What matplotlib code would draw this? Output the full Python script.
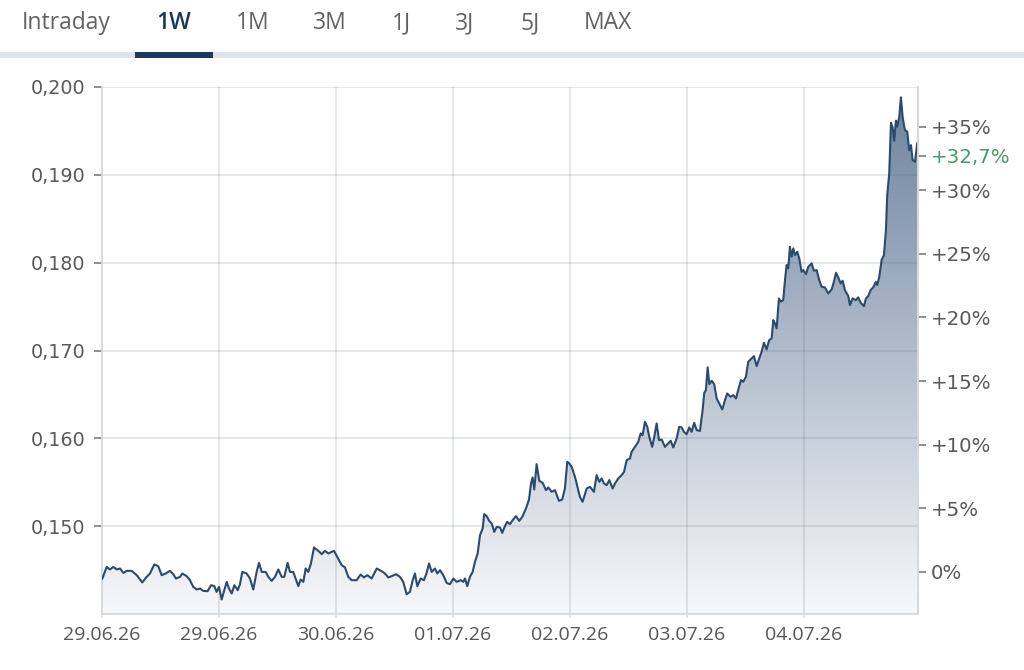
import matplotlib
matplotlib.use("Agg")
import matplotlib.pyplot as plt
import numpy as np
from matplotlib.colors import LinearSegmentedColormap
from matplotlib.patches import Rectangle, Polygon

# ---------------- data ----------------
tabs = ["Intraday", "1W", "1M", "3M", "1J", "3J", "5J", "MAX"]
active_tab = "1W"

date_labels = ["29.06.26", "29.06.26", "30.06.26", "01.07.26",
               "02.07.26", "03.07.26", "04.07.26"]

price_ticks = [0.150, 0.160, 0.170, 0.180, 0.190, 0.200]
pct_ticks = [0, 5, 10, 15, 20, 25, 30, 35]
base_price = 0.1448
last_pct = 32.7

# time in trading-day units (0 = first tick), price values
t = [0.003, 0.040, 0.068, 0.097, 0.126, 0.154, 0.182, 0.211, 0.254, 0.297,
     0.344, 0.382, 0.410, 0.447, 0.481, 0.510, 0.544, 0.581, 0.609, 0.632,
     0.667, 0.686, 0.724, 0.752, 0.780, 0.809, 0.838, 0.866, 0.903, 0.932,
     0.960, 0.980, 1.000, 1.023, 1.045, 1.066, 1.085, 1.109, 1.131, 1.160,
     1.179, 1.199, 1.237, 1.265, 1.293, 1.322, 1.342, 1.365, 1.399, 1.422,
     1.450, 1.479, 1.507, 1.536, 1.558, 1.587, 1.607, 1.635, 1.658, 1.678,
     1.698, 1.721, 1.741, 1.763, 1.786, 1.812, 1.849, 1.878, 1.906, 1.934,
     1.983, 2.011, 2.049, 2.077, 2.105, 2.134, 2.177, 2.211, 2.239, 2.268,
     2.305, 2.348, 2.391, 2.419, 2.447, 2.476, 2.513, 2.547, 2.575, 2.604,
     2.632, 2.656, 2.675, 2.695, 2.724, 2.752, 2.775, 2.795, 2.818, 2.846,
     2.866, 2.889, 2.917, 2.946, 2.974, 3.003, 3.032, 3.066, 3.088, 3.103,
     3.122, 3.145, 3.168, 3.188, 3.211, 3.231, 3.254, 3.267, 3.288, 3.310,
     3.331, 3.353, 3.374, 3.402, 3.421, 3.444, 3.464, 3.487, 3.510, 3.538,
     3.567, 3.596, 3.624, 3.650, 3.667, 3.681, 3.695, 3.715, 3.738, 3.767,
     3.795, 3.815, 3.844, 3.872, 3.906, 3.934, 3.957, 3.977, 3.994, 4.015,
     4.043, 4.085, 4.108, 4.143, 4.171, 4.205, 4.228, 4.251, 4.271, 4.291,
     4.314, 4.336, 4.365, 4.385, 4.413, 4.442, 4.462, 4.485, 4.513, 4.527,
     4.556, 4.584, 4.604, 4.621, 4.641, 4.661, 4.678, 4.703, 4.721, 4.741,
     4.761, 4.784, 4.812, 4.840, 4.861, 4.883, 4.912, 4.934, 4.955, 4.974,
     4.997, 5.020, 5.040, 5.062, 5.083, 5.111, 5.134, 5.148, 5.162, 5.177,
     5.191, 5.211, 5.233, 5.254, 5.276, 5.302, 5.325, 5.344, 5.373, 5.396,
     5.419, 5.438, 5.462, 5.481, 5.504, 5.524, 5.553, 5.573, 5.596, 5.618,
     5.638, 5.658, 5.681, 5.703, 5.724, 5.738, 5.752, 5.767, 5.786, 5.803,
     5.823, 5.838, 5.852, 5.866, 5.880, 5.895, 5.909, 5.923, 5.943, 5.960,
     5.980, 5.994, 6.017, 6.037, 6.066, 6.085, 6.108, 6.131, 6.151, 6.179,
     6.208, 6.237, 6.256, 6.274, 6.293, 6.314, 6.331, 6.350, 6.379, 6.393,
     6.416, 6.444, 6.464, 6.485, 6.513, 6.530, 6.550, 6.570, 6.592, 6.615,
     6.626, 6.644, 6.664, 6.684, 6.701, 6.712, 6.729, 6.744, 6.758, 6.772,
     6.786, 6.797, 6.815, 6.829, 6.844, 6.863, 6.883, 6.900, 6.915, 6.929,
     6.949, 6.968]

price = [0.14404, 0.14536, 0.14507, 0.14536, 0.14507, 0.14518, 0.14468, 0.14491, 0.14491, 0.14442,
         0.14359, 0.14423, 0.14461, 0.14564, 0.14544, 0.14442, 0.14461, 0.14491, 0.14453, 0.14404,
         0.14423, 0.14461, 0.14431, 0.14385, 0.14309, 0.14279, 0.14290, 0.14263, 0.14260, 0.14328,
         0.14317, 0.14252, 0.14309, 0.14165, 0.14271, 0.14366, 0.14290, 0.14234, 0.14328, 0.14271,
         0.14336, 0.14479, 0.14461, 0.14404, 0.14279, 0.14479, 0.14582, 0.14479, 0.14479, 0.14423,
         0.14377, 0.14423, 0.14507, 0.14423, 0.14423, 0.14582, 0.14479, 0.14479, 0.14393, 0.14317,
         0.14393, 0.14366, 0.14518, 0.14479, 0.14575, 0.14757, 0.14719, 0.14681, 0.14719, 0.14689,
         0.14719, 0.14650, 0.14556, 0.14530, 0.14423, 0.14385, 0.14385, 0.14450, 0.14416, 0.14442,
         0.14404, 0.14518, 0.14487, 0.14461, 0.14416, 0.14431, 0.14453, 0.14423, 0.14366, 0.14226,
         0.14252, 0.14385, 0.14461, 0.14317, 0.14404, 0.14385, 0.14468, 0.14575, 0.14479, 0.14518,
         0.14461, 0.14499, 0.14442, 0.14354, 0.14339, 0.14404, 0.14366, 0.14385, 0.14366, 0.14404,
         0.14317, 0.14423, 0.14479, 0.14593, 0.14689, 0.14897, 0.14974, 0.15137, 0.15114, 0.15060,
         0.15031, 0.14935, 0.14992, 0.14985, 0.14924, 0.15000, 0.15049, 0.15023, 0.15068, 0.15114,
         0.15060, 0.15114, 0.15202, 0.15304, 0.15486, 0.15555, 0.15418, 0.15706, 0.15516, 0.15493,
         0.15410, 0.15441, 0.15391, 0.15410, 0.15288, 0.15304, 0.15429, 0.15732, 0.15714, 0.15675,
         0.15561, 0.15334, 0.15277, 0.15429, 0.15448, 0.15391, 0.15581, 0.15505, 0.15543, 0.15486,
         0.15467, 0.15524, 0.15429, 0.15486, 0.15543, 0.15581, 0.15618, 0.15752, 0.15771, 0.15846,
         0.15903, 0.15960, 0.16056, 0.16036, 0.16188, 0.16131, 0.16017, 0.15903, 0.16017, 0.16170,
         0.15979, 0.15987, 0.15903, 0.15942, 0.15972, 0.15896, 0.15999, 0.16131, 0.16124, 0.16074,
         0.16048, 0.16124, 0.16074, 0.16177, 0.16093, 0.16085, 0.16321, 0.16518, 0.16549, 0.16808,
         0.16617, 0.16655, 0.16617, 0.16454, 0.16397, 0.16329, 0.16435, 0.16511, 0.16473, 0.16492,
         0.16454, 0.16549, 0.16663, 0.16644, 0.16700, 0.16871, 0.16910, 0.16936, 0.16822, 0.16910,
         0.16985, 0.17088, 0.17013, 0.17118, 0.17138, 0.17346, 0.17309, 0.17252, 0.17593, 0.17555,
         0.17574, 0.17802, 0.17973, 0.17935, 0.18181, 0.18067, 0.18163, 0.18087, 0.18124, 0.18049,
         0.17896, 0.17916, 0.17870, 0.17953, 0.17992, 0.17908, 0.17916, 0.17802, 0.17726, 0.17719,
         0.17650, 0.17696, 0.17782, 0.17885, 0.17833, 0.17764, 0.17794, 0.17688, 0.17620, 0.17517,
         0.17593, 0.17574, 0.17605, 0.17543, 0.17506, 0.17593, 0.17620, 0.17688, 0.17719, 0.17782,
         0.17745, 0.17839, 0.18030, 0.18087, 0.18371, 0.18770, 0.19017, 0.19593, 0.19541, 0.19388,
         0.19616, 0.19548, 0.19662, 0.19883, 0.19655, 0.19510, 0.19491, 0.19282, 0.19339, 0.19169,
         0.19149, 0.19359]

# ---------------- figure ----------------
W, H = 1024, 670
fig = plt.figure(figsize=(W / 100, H / 100), dpi=100)
fig.patch.set_facecolor("white")

# tab bar
tab_x = [22, 156, 236, 313, 392, 455, 520, 584]
for name, x in zip(tabs, tab_x):
    active = name == active_tab
    fig.text(x / W, 1 - 23 / H, name, ha="left", va="center",
             family="Open Sans", fontsize=16.5,
             fontweight="semibold" if active else "normal",
             color="#1b365d" if active else "#626262")
fig.patches.append(Rectangle((0, 1 - 58 / H), 1, 6 / H, transform=fig.transFigure,
                             facecolor="#dfe3e8", edgecolor="none"))
fig.patches.append(Rectangle((135 / W, 1 - 58 / H), 78 / W, 6 / H, transform=fig.transFigure,
                             facecolor="#1c3a5e", edgecolor="none", zorder=3))

# main axes
ax = fig.add_axes([102 / W, 56 / H, 816 / W, 527 / H])
xmax = 6.975
ymin, ymax = 0.140, 0.200
ax.set_xlim(0, xmax)
ax.set_ylim(ymin, ymax)

# gradient fill under the line
cmap = LinearSegmentedColormap.from_list("g", ["#f7f8fa", "#6a819d"])
grad = np.linspace(0, 1, 256).reshape(-1, 1)
im = ax.imshow(grad, extent=[0, xmax, ymin, ymax], origin="lower", aspect="auto",
               cmap=cmap, zorder=1)
verts = list(zip(t, price)) + [(t[-1], ymin), (t[0], ymin)]
clip = Polygon(verts, closed=True, transform=ax.transData, facecolor="none", edgecolor="none")
ax.add_patch(clip)
im.set_clip_path(clip)

ax.plot(t, price, color="#2c4a6e", lw=1.5, zorder=3, solid_joinstyle="round")

# ticks and grid
ax.set_xticks(range(len(date_labels)))
ax.set_xticklabels(date_labels, family="Open Sans", fontsize=14, color="#555555")
ax.set_yticks(price_ticks)
ax.set_yticklabels([f"{p:.3f}".replace(".", ",") for p in price_ticks],
                   family="DejaVu Sans", fontsize=13.8, color="#595959")
ax.grid(True, color="#4d6179", alpha=0.16, lw=1.3, zorder=2)
for line in ax.get_xgridlines() + ax.get_ygridlines():
    line.set_zorder(2)

ax.tick_params(axis="y", length=6, width=1.1, color="#707070", pad=6)
ax.tick_params(axis="x", length=3, width=1.1, color="#d8dce1", pad=6)

ax.spines["top"].set_visible(False)
for s in ["left", "bottom", "right"]:
    ax.spines[s].set_color("#d5d9de")
    ax.spines[s].set_linewidth(1.3)

# right percentage axis
ax2 = ax.twinx()
ax2.set_ylim(ymin, ymax)
rt = [base_price * (1 + p / 100) for p in pct_ticks] + [base_price * (1 + last_pct / 100)]
rl = [("+%d%%" % p if p > 0 else "0%") for p in pct_ticks] + [("+%.1f%%" % last_pct).replace(".", ",")]
ax2.set_yticks(rt)
ax2.set_yticklabels(rl, family="DejaVu Sans", fontsize=14.2, color="#595959")
ax2.get_yticklabels()[-1].set_color("#4a9a68")
ax2.tick_params(axis="y", length=6, width=1.1, color="#707070", pad=3.5)
for s in ["top", "left", "bottom"]:
    ax2.spines[s].set_visible(False)
ax2.spines["right"].set_color("#d5d9de")
ax2.spines["right"].set_linewidth(1.3)

fig.savefig("out.png", dpi=100, facecolor="white")
